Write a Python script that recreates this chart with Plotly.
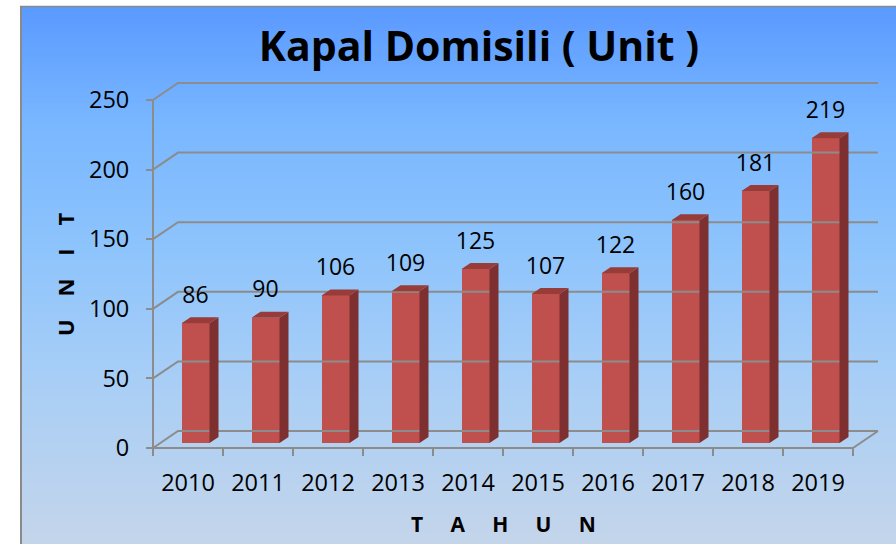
import plotly.graph_objects as go

# ---------------- data ----------------
years = ["2010", "2011", "2012", "2013", "2014", "2015", "2016", "2017", "2018", "2019"]
kapal = [86, 90, 106, 109, 125, 107, 122, 160, 181, 219]
y_ticks = [0, 50, 100, 150, 200, 250]
chart_title = "Kapal Domisili ( Unit )"
x_title = "TAHUN"
y_title = "UNIT"

# ---------------- geometry (pixels) ----------------
W, H = 896, 544
AX_X0 = 153          # pixel x of the y axis (front plane)
AX_Y0 = 448          # pixel y of value 0 (front plane)
CAT_PX = 70          # pixels per category
UNIT_PX = 348 / 250  # pixels per unit


def xd(px):
    return (px - AX_X0) / CAT_PX - 0.5


def yd(py):
    return (AX_Y0 - py) / UNIT_PX


x_range = [xd(0), xd(W)]
y_range = [yd(H), yd(0)]

WALL_DX, WALL_DY = 25 / CAT_PX, 17 / UNIT_PX        # back wall offset
BAR_SHIFT, BAR_BASE = 7.5 / CAT_PX, 5 / UNIT_PX     # bar depth plane
BAR_W = 28 / CAT_PX
DEPTH_DX, DEPTH_DY = 9 / CAT_PX, 6 / UNIT_PX        # bar thickness
LABEL_GAP = 26 / UNIT_PX

n = len(years)
idx = list(range(n))
x_lo, x_hi = -0.5, n - 0.5
GRID = "#8C8C8C"
FONT = "Open Sans"

fig = go.Figure()

# ---- back wall gridlines, floor and front axis lines ----
gx, gy = [], []
for t in y_ticks:
    gx += [x_lo, x_lo + WALL_DX, x_hi + WALL_DX, None]
    gy += [t, t + WALL_DY, t + WALL_DY, None]
gx += [x_lo, x_lo, None]
gy += [y_ticks[0], y_ticks[-1], None]
gx += [x_lo, x_hi, x_hi + WALL_DX, None]
gy += [0, 0, WALL_DY, None]
fig.add_trace(go.Scatter(x=gx, y=gy, mode="lines", line=dict(color=GRID, width=2),
                         hoverinfo="skip", showlegend=False))

# ---- bars: front faces ----
bx = [i + BAR_SHIFT for i in idx]
fig.add_trace(go.Bar(x=bx, y=kapal, base=BAR_BASE, width=BAR_W,
                     marker=dict(color="#C0504D", line=dict(width=0)),
                     showlegend=False, hoverinfo="skip"))

# ---- bars: side and top faces ----
sx, sy, tx, ty = [], [], [], []
for c, v in zip(bx, kapal):
    xl, xr = c - BAR_W / 2, c + BAR_W / 2
    top = BAR_BASE + v
    sx += [xr, xr + DEPTH_DX, xr + DEPTH_DX, xr, xr, None]
    sy += [BAR_BASE, BAR_BASE + DEPTH_DY, top + DEPTH_DY, top, BAR_BASE, None]
    tx += [xl, xl + DEPTH_DX, xr + DEPTH_DX, xr, xl, None]
    ty += [top, top + DEPTH_DY, top + DEPTH_DY, top, top, None]
fig.add_trace(go.Scatter(x=sx, y=sy, mode="lines", fill="toself", fillcolor="#7D302F",
                         line=dict(width=0, color="#7D302F"), hoverinfo="skip", showlegend=False))
fig.add_trace(go.Scatter(x=tx, y=ty, mode="lines", fill="toself", fillcolor="#983C3A",
                         line=dict(width=0, color="#983C3A"), hoverinfo="skip", showlegend=False))

# ---- value labels ----
fig.add_trace(go.Scatter(x=bx, y=[BAR_BASE + v + LABEL_GAP for v in kapal],
                         text=[str(v) for v in kapal], mode="text",
                         textposition="middle center",
                         textfont=dict(family=FONT, size=23, color="black"),
                         hoverinfo="skip", showlegend=False))

# ---- background gradient & border ----
stops = [(6, (90, 153, 255)), (120, (120, 182, 255)), (250, (142, 196, 252)),
         (380, (168, 206, 246)), (544, (196, 213, 234))]


def col_at(py):
    for (p0, c0), (p1, c1) in zip(stops[:-1], stops[1:]):
        if p0 <= py <= p1:
            f = (py - p0) / (p1 - p0)
            return "rgb(%d,%d,%d)" % tuple(round(a + (b - a) * f) for a, b in zip(c0, c1))
    return "rgb(%d,%d,%d)" % stops[-1][1]


shapes = []
step = 3
py = 7
while py < H:
    shapes.append(dict(type="rect", xref="paper", yref="paper", layer="below",
                       x0=22 / W, x1=1, y0=1 - min(py + step, H) / H, y1=1 - py / H,
                       line=dict(width=0), fillcolor=col_at(py + step / 2)))
    py += step
shapes.append(dict(type="line", xref="paper", yref="paper", layer="below",
                   x0=21 / W, x1=21 / W, y0=0, y1=1 - 6 / H, line=dict(color="#8A8A8A", width=2)))
shapes.append(dict(type="line", xref="paper", yref="paper", layer="below",
                   x0=20 / W, x1=1, y0=1 - 6.5 / H, y1=1 - 6.5 / H, line=dict(color="#8A8A8A", width=1.5)))

nb = "\u00a0"
fig.update_layout(
    width=W, height=H, autosize=False,
    margin=dict(l=0, r=0, t=0, b=0),
    paper_bgcolor="white", plot_bgcolor="rgba(0,0,0,0)",
    shapes=shapes,
    showlegend=False,
    bargap=0,
    title=dict(text="<b>" + chart_title + "</b>", x=479 / W, y=1 - 47 / H,
               xanchor="center", yanchor="middle",
               font=dict(family=FONT, size=41, color="black")),
    xaxis=dict(range=x_range, anchor="free", position=(H - AX_Y0) / H,
               showgrid=False, zeroline=False, showline=False,
               tickmode="array", tickvals=idx, ticktext=years, ticks="",
               ticklabelstandoff=18,
               tickfont=dict(family=FONT, size=23.5, color="black"),
               minor=dict(tickmode="array", tickvals=[i - 0.5 for i in range(n + 1)],
                          ticks="outside", ticklen=7, tickwidth=2, tickcolor=GRID,
                          showgrid=False),
               fixedrange=True),
    yaxis=dict(range=y_range, anchor="free", position=AX_X0 / W,
               showgrid=False, zeroline=False, showline=False,
               tickmode="array", tickvals=y_ticks, ticks="outside", ticklen=7,
               tickwidth=2, tickcolor=GRID, ticklabelstandoff=12,
               tickfont=dict(family=FONT, size=23.5, color="black"),
               fixedrange=True),
    annotations=[
        dict(text="<b>" + (nb * 5).join(x_title) + "</b>", xref="paper", yref="paper",
             x=503.5 / W, y=1 - 524 / H, xanchor="center", yanchor="middle", showarrow=False,
             font=dict(family=FONT, size=21, color="black")),
        dict(text="<b>" + (nb * 4).join(y_title) + "</b>", xref="paper", yref="paper",
             x=65 / W, y=1 - 275 / H, xanchor="center", yanchor="middle", showarrow=False,
             textangle=-90, font=dict(family=FONT, size=22, color="black")),
    ],
)

fig.write_html("out.html", config=dict(displayModeBar=False),
               post_script="document.body.style.margin='0';")
